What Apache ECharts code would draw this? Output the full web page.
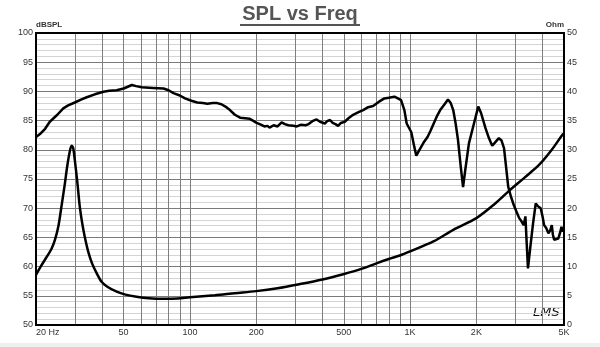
<!DOCTYPE html>
<html>
<head>
<meta charset="utf-8">
<script src="https://cdn.jsdelivr.net/npm/echarts@6/dist/echarts.min.js"></script>
<style>html,body{margin:0;padding:0;background:#fff;}#c{width:600px;height:347px;}</style>
</head>
<body>
<div id="c"></div>
<script>
// Tick labels of the frequency axis
var tickFreqs = [20, 50, 100, 200, 500, 1000, 2000, 5000];
var tickLabels = ["20 Hz", "50", "100", "200", "500", "1K", "2K", "5K"];
// Vertical grid line frequencies
var gridFreqs = [30, 40, 50, 60, 70, 80, 90, 100, 200, 300, 400, 500, 600, 700, 800, 900, 1000, 2000, 3000, 4000];

// SPL curve (dBSPL, left axis)
var splFreq = [20,21,22,23.1,25,26.6,28,30,32,34,37,40.5,43,46.5,50,54.5,57,60.5,68,75.9,80,84.2,90,95,101.6,108,114.5,120,127,133,139,145,152,160,169,178,187,195,201,210,218,225,230,240,250,261,270,280,295,306,320,335,346,360,376,390,410,420,433,445,458,471,485,505,525,551,580,612,645,679,720,764,800,849,880,910,942,965,1013,1045,1067,1085,1103,1150,1200,1240,1280,1330,1370,1420,1486,1530,1570,1610,1650,1700,1740,1780,1850,1950,2040,2100,2200,2280,2360,2450,2530,2600,2670,2730,2790,2870,2960,3050,3130,3200,3280,3340,3380,3430,3520,3620,3720,3820,3920,4000,4060,4150,4250,4330,4400,4450,4510,4600,4710,4800,4870,4950,5000];
var splDb = [82.2,82.8,83.6,84.8,86.0,87.1,87.6,88.1,88.6,89.0,89.5,89.95,90.1,90.2,90.5,91.1,90.9,90.7,90.6,90.5,90.2,89.7,89.3,88.8,88.4,88.1,88.0,87.9,88.0,88.0,87.8,87.4,86.8,86.0,85.5,85.4,85.3,84.9,84.6,84.3,84.0,84.1,83.8,84.2,84.0,84.7,84.4,84.2,84.1,84.0,84.3,84.2,84.4,84.9,85.2,84.8,84.5,84.9,85.1,84.6,84.4,84.1,84.6,84.8,85.4,86.0,86.4,86.8,87.3,87.5,88.2,88.8,88.9,89.1,88.8,88.5,86.8,84.5,83.0,80.5,79.0,79.3,80.0,81.2,82.2,83.3,84.5,85.9,86.8,87.6,88.6,88.0,86.8,84.5,81.7,77.0,73.6,76.5,81.1,84.5,87.4,86.3,83.7,82.0,80.7,81.4,82.0,81.6,80.3,77.0,73.7,72.0,70.5,69.3,68.3,67.8,67.1,68.6,64.5,59.7,63.5,67.5,70.8,70.3,70.0,68.5,67.1,66.6,65.7,66.2,67.1,65.5,64.6,64.5,64.8,65.8,66.8,66.0,66.5];

// Impedance curve (Ohm, right axis)
var impFreq = [20,21,22.4,23.5,24.4,25.3,26.1,27,27.7,28.4,29,29.5,30,30.8,31.6,32.4,33.3,34.5,35.9,37.8,39.7,42,46.5,51,57.2,65,75.9,88,100,130,160,200,250,315,400,497,600,708,800,898,1000,1276,1571,2000,2400,2840,3300,3850,4400,4900,5000];
var impOhm = [8.6,10.0,11.7,13.0,14.6,17.0,20.3,24.0,27.1,29.5,30.7,30.3,28.3,24.5,20.3,17.5,15.1,12.6,10.6,8.8,7.4,6.6,5.7,5.2,4.85,4.6,4.5,4.55,4.75,5.1,5.45,5.8,6.3,7.0,7.8,8.7,9.6,10.6,11.3,11.9,12.6,14.3,16.3,18.3,20.6,23.1,25.2,27.4,30.0,32.5,32.8];

function pairs(xs, ys) { return xs.map(function (x, i) { return [x, ys[i]]; }); }

var chart = echarts.init(document.getElementById('c'), null, { renderer: 'canvas' });

var gridLineData = gridFreqs.map(function (f) { return { xAxis: f }; });
var labelLineData = tickFreqs.map(function (f, i) {
  var d = { xAxis: f, label: { show: true, formatter: tickLabels[i] } };
  if (i === 0) d.label.align = 'left';
  return d;
});

chart.setOption({
  animation: false,
  backgroundColor: '#fff',
  grid: { left: 36, right: 36, top: 33, bottom: 22, show: true, borderColor: '#000', borderWidth: 2, backgroundColor: 'transparent', z: 3 },
  xAxis: {
    type: 'log', logBase: 10, min: 20, max: 5000,
    axisLine: { show: false }, axisTick: { show: false }, axisLabel: { show: false }, splitLine: { show: false }
  },
  yAxis: [
    {
      type: 'value', min: 50, max: 100, interval: 5, position: 'left',
      name: 'dBSPL', nameLocation: 'end', nameGap: 2,
      nameTextStyle: { align: 'left', fontSize: 8, fontWeight: 'bold', color: '#333', fontFamily: 'Liberation Sans' },
      axisLine: { show: false }, axisTick: { show: false },
      axisLabel: { fontSize: 9, color: '#333', margin: 3, fontFamily: 'Liberation Sans' },
      splitLine: { show: true, lineStyle: { color: '#7a7a7a', width: 1 } },
      minorTick: { show: false, splitNumber: 5 },
      minorSplitLine: { show: true, lineStyle: { color: '#d4d4d4', width: 1 } }
    },
    {
      type: 'value', min: 0, max: 50, interval: 5, position: 'right',
      name: 'Ohm', nameLocation: 'end', nameGap: 2,
      nameTextStyle: { align: 'right', fontSize: 8, fontWeight: 'bold', color: '#333', fontFamily: 'Liberation Sans' },
      axisLine: { show: false }, axisTick: { show: false },
      axisLabel: { fontSize: 9, color: '#333', margin: 3, fontFamily: 'Liberation Sans' },
      splitLine: { show: false }
    }
  ],
  graphic: [
    { type: 'text', left: 'center', top: 4, style: { text: 'SPL vs Freq', font: 'bold 20px "Liberation Sans"', fill: '#555' } },
    { type: 'rect', shape: { x: 240, y: 24, width: 120, height: 2 }, style: { fill: '#555' } },
    { type: 'text', x: 533, y: 306, style: { text: 'LMS', font: 'italic 13px "DejaVu Sans"', fill: '#111' } },
    { type: 'rect', shape: { x: 0, y: 343, width: 600, height: 4 }, style: { fill: '#f0f0f0' }, z: -1 }
  ],
  series: [
    {
      type: 'line', data: [], xAxisIndex: 0, yAxisIndex: 0, silent: true,
      markLine: {
        silent: true, symbol: 'none', z: 1, animation: false,
        lineStyle: { color: '#7e7e7e', width: 1, type: 'solid' },
        label: { show: false },
        data: gridLineData
      }
    },
    {
      type: 'line', data: [], xAxisIndex: 0, yAxisIndex: 0, silent: true,
      markLine: {
        silent: true, symbol: 'none', z: 1, animation: false,
        lineStyle: { color: 'rgba(0,0,0,0)', width: 1, type: 'solid' },
        label: { show: true, position: 'start', distance: 3, fontSize: 9, color: '#333', fontFamily: 'Liberation Sans' },
        data: labelLineData
      }
    },
    {
      name: 'SPL', type: 'line', yAxisIndex: 0, data: pairs(splFreq, splDb),
      showSymbol: false, smooth: false, z: 5,
      lineStyle: { color: '#000', width: 2.5 }
    },
    {
      name: 'Impedance', type: 'line', yAxisIndex: 1, data: pairs(impFreq, impOhm),
      showSymbol: false, smooth: 0.3, z: 5,
      lineStyle: { color: '#000', width: 2.5 }
    }
  ]
});
</script>
</body>
</html>
